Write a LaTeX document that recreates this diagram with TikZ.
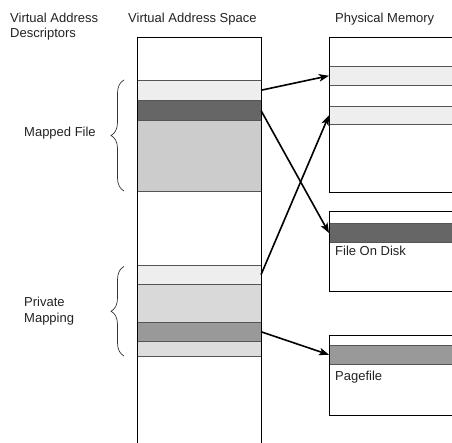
\documentclass[tikz,border=0pt]{standalone}
\usepackage{fontspec}
\setmainfont{Liberation Sans}
\usetikzlibrary{arrows.meta,decorations.pathreplacing}
\definecolor{txt}{HTML}{222222}
\definecolor{edge}{HTML}{555555}
\definecolor{pale}{HTML}{EEEEEE}
\definecolor{dark}{HTML}{666666}
\definecolor{mid}{HTML}{999999}
\definecolor{soft}{HTML}{CCCCCC}
\definecolor{softer}{HTML}{D9D9D9}
\definecolor{lite}{HTML}{DDDDDD}
\begin{document}
\begin{tikzpicture}[x=1pt,y=-1pt,
  lbl/.style={font=\fontsize{13}{16}\selectfont, text=txt, inner sep=0pt, anchor=base west},
  band/.style={draw=edge, line width=0.8pt, inner sep=0pt, outer sep=0pt, rectangle},
  vband/.style={band, minimum width=124pt},
  pband/.style={band, minimum width=131pt},
  box/.style={draw=black, line width=0.9pt, inner sep=0pt, outer sep=0pt, rectangle, minimum width=131pt},
  arr/.style={draw=black, line width=1.6pt, -{Stealth[length=10pt,width=7.5pt,inset=2.5pt]}},
  vbrace/.style={draw=black!80, line width=0.7pt, decorate, decoration={brace, amplitude=13pt}}
]
\useasboundingbox (0,0) rectangle (452,443);
\clip (0,0) rectangle (452,443);

% headings
\node[lbl] (hvad1) at (10,22.5) {Virtual Address};
\node[lbl] (hvad2) at (10,38) {Descriptors};
\node[lbl] (hvas) at (128,22.5) {Virtual Address Space};
\node[lbl] (hpm) at (335,22.5) {Physical Memory};

% virtual address space: mapped file region
\node[vband, fill=pale, minimum height=20.5pt] (va1) at (199,90.25) {};
\node[vband, fill=dark, minimum height=20pt] (va2) at (199,110.5) {};
\node[vband, fill=soft, minimum height=71pt] (va3) at (199,156) {};

% virtual address space: private mapping region
\node[vband, fill=pale, minimum height=19.5pt] (vb1) at (199,274.75) {};
\node[vband, fill=softer, minimum height=37.5pt] (vb2) at (199,303.25) {};
\node[vband, fill=mid, minimum height=19.5pt] (vb3) at (199,331.75) {};
\node[vband, fill=lite, minimum height=15pt] (vb4) at (199,349) {};

% outline of the address space column (open at the bottom)
\draw[black, line width=0.9pt] (137,450) |- (261,37) -- (261,450);

% physical memory pages
\node[pband, fill=pale, minimum height=19.5pt] (pm1) at (394.5,75.75) {};
\node[pband, fill=pale, minimum height=18.5pt] (pm2) at (394.5,115.25) {};
\node[pband, fill=dark, minimum height=19pt] (fd1) at (394.5,233) {};
\node[pband, fill=mid, minimum height=19.5pt] (pf1) at (394.5,354.75) {};

\node[box, minimum height=155.5pt] (mem) at (394.5,114.75) {};
\node[box, minimum height=80pt] (disk) at (394.5,251) {};
\node[box, minimum height=80pt] (page) at (394.5,375) {};

\node[lbl] (tdisk) at (335,256) {File On Disk};
\node[lbl] (tpage) at (335,380) {Pagefile};

% descriptor braces and labels
\draw[vbrace] (124,191) -- (124,80);
\draw[vbrace] (124,356) -- (124,266.5);
\node[lbl] (tmapped) at (24,136.5) {Mapped File};
\node[lbl] (tpriv1) at (24,306.5) {Private};
\node[lbl] (tpriv2) at (24,322.5) {Mapping};

% mappings
\draw[arr] (va1.east) -- (pm1.west);
\draw[arr] (va2.east) -- (fd1.west);
\draw[arr] (vb1.east) -- (pm2.west);
\draw[arr] (vb3.east) -- (pf1.west);
\end{tikzpicture}
\end{document}
